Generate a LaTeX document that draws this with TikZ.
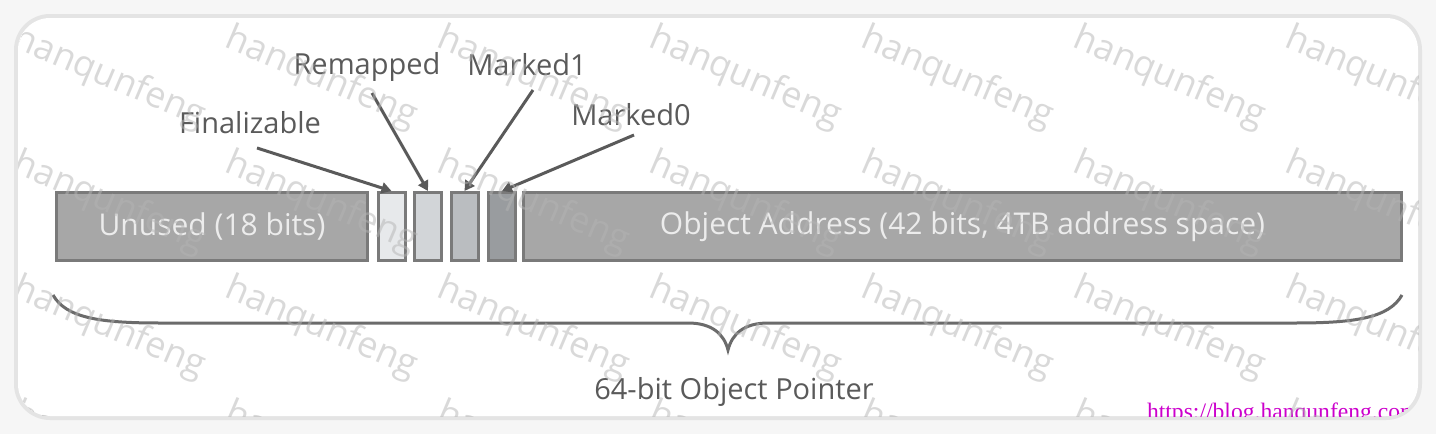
\documentclass[tikz,border=0pt]{standalone}
\usepackage{fontspec}
\setmainfont{Open Sans}
\newfontfamily\urlfont{Liberation Serif}
\usetikzlibrary{arrows.meta}

\definecolor{pagebg}{HTML}{F6F6F6}
\definecolor{shadowgray}{HTML}{E4E4E4}
\definecolor{fieldfill}{HTML}{A7A7A7}
\definecolor{fieldline}{HTML}{7A7A7A}
\definecolor{fieldtext}{HTML}{ECECEC}
\definecolor{labelgray}{HTML}{5A5A5A}
\definecolor{bitA}{HTML}{E7E9EB}
\definecolor{bitB}{HTML}{D2D5D8}
\definecolor{bitC}{HTML}{BABDC0}
\definecolor{bitD}{HTML}{999C9F}
\definecolor{wmgray}{HTML}{B4B4B4}
\definecolor{urlmagenta}{HTML}{CC00CC}

\begin{document}
\begin{tikzpicture}
      [x=0.5pt,y=-0.5pt,
       every node/.style={font=\fontsize{14.5}{17}\selectfont,text=labelgray},
       field/.style={rectangle,draw=fieldline,fill=fieldfill,line width=1.5pt,minimum height=34pt,inner sep=0pt,
                     text=fieldtext,font=\fontsize{15}{18}\selectfont},
       bitbox/.style={rectangle,draw=fieldline,line width=1.5pt,minimum height=34pt,minimum width=13.5pt,inner sep=0pt},
       ptr/.style={draw=labelgray,line width=1.5pt,-{Triangle[length=5pt,width=5.5pt]}},
       brace/.style={draw=labelgray!90,line width=1.5pt},
       wm/.style={anchor=base west,rotate=-23,text=wmgray,text opacity=0.5,font=\fontsize{18}{18}\selectfont}]
	\fill[pagebg] (0,0) rectangle (1436,434);
	\fill[shadowgray,rounded corners=18pt] (14,14) rectangle (1422,420);
	\fill[white,rounded corners=16pt] (18,18) rectangle (1418,416);

	\node (unused)[field,minimum width=155.5pt] at (212,226.5) {Unused (18 bits)};
	\node (fin)[bitbox,fill=bitA] at (391.5,226.5) {};
	\node (rem)[bitbox,fill=bitB] at (428,226.5)   {};
	\node (mk1)[bitbox,fill=bitC] at (464.5,226.5) {};
	\node (mk0)[bitbox,fill=bitD] at (502,226.5)   {};
	\node (addr)[field,minimum width=439pt] at (962.5,226.5) {Object Address (42 bits, 4TB address space)};

	\node (lfin) at (250,123) {Finalizable};
	\node (lrem) at (367,67)  {Remapped};
	\node (lmk1) at (527,65)  {Marked1};
	\node (lmk0) at (631,115) {Marked0};

	\coordinate (tfin) at (257,148);
	\coordinate (trem) at (372,93);
	\coordinate (tmk1) at (533,90);
	\coordinate (tmk0) at (634,135);

	\foreach \from/\to in {tfin/fin,trem/rem,tmk1/mk1,tmk0/mk0}
	  \draw[ptr] (\from) -- (\to.north);

	\draw[brace] (53,295) .. controls (66,318) and (100,323) .. (160,323) -- (688,323)
	  .. controls (712,323) and (724,334) .. (728,350) .. controls (732,334) and (744,323) .. (768,323)
	  -- (1295,323) .. controls (1355,323) and (1389,318) .. (1402,295);
	\node (total) at (734,392) {64-bit Object Pointer};

	\begin{scope}
	  \clip[rounded corners=16pt] (18,18) rectangle (1418,416);
	  \node (url)[anchor=base west,text=urlmagenta,font=\urlfont\fontsize{11.8}{12}\selectfont] at (1140,419) {https://blog.hanqunfeng.com};
	  \foreach \c in {0,...,6}
	    \foreach \r in {0,...,3}
	      \node[wm] at ({5+212*\c},{44+125*\r}) {hanqunfeng};
	\end{scope}
      \end{tikzpicture}
\end{document}
